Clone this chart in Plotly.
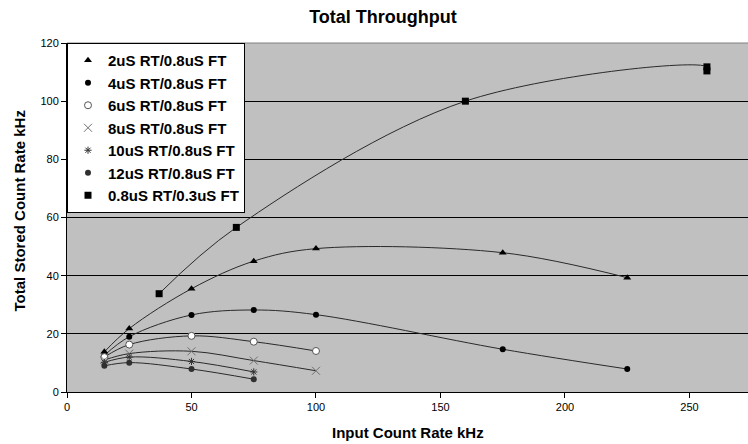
import plotly.graph_objects as go

x_2us = [15, 25, 50, 75, 100, 175, 225]
y_2us = [13.8, 21.8, 35.5, 45.0, 49.3, 47.9, 39.3]
x_4us = [15, 25, 50, 75, 100, 175, 225]
y_4us = [12.6, 19.0, 26.5, 28.2, 26.6, 14.7, 7.9]
x_6us = [15, 25, 50, 75, 100]
y_6us = [12.0, 16.3, 19.3, 17.3, 14.1]
x_8us = [15, 25, 50, 75, 100]
y_8us = [11.0, 13.2, 14.0, 10.8, 7.3]
x_10us = [15, 25, 50, 75]
y_10us = [10.2, 12.0, 10.5, 6.9]
x_12us = [15, 25, 50, 75]
y_12us = [9.0, 10.1, 7.9, 4.4]
x_08us = [37, 68, 160, 257, 257]
y_08us = [33.8, 56.6, 100.0, 111.8, 110.4]

names = ["2uS RT/0.8uS FT", "4uS RT/0.8uS FT", "6uS RT/0.8uS FT", "8uS RT/0.8uS FT",
         "10uS RT/0.8uS FT", "12uS RT/0.8uS FT", "0.8uS RT/0.3uS FT"]
xs = [x_2us, x_4us, x_6us, x_8us, x_10us, x_12us, x_08us]
ys = [y_2us, y_4us, y_6us, y_8us, y_10us, y_12us, y_08us]

markers = [
    dict(symbol="triangle-up", size=7, color="black"),
    dict(symbol="circle", size=6, color="black"),
    dict(symbol="circle", size=7, color="white", line=dict(color="#555555", width=1)),
    dict(symbol="x-thin-open", size=8, color="#707070", line=dict(color="#707070", width=1)),
    dict(symbol="asterisk-open", size=6, color="#333333", line=dict(color="#333333", width=1)),
    dict(symbol="circle", size=6, color="#303030"),
    dict(symbol="square", size=7, color="black"),
]

fig = go.Figure()
for x, y in zip(xs, ys):
    fig.add_trace(go.Scatter(x=x, y=y, mode="lines", showlegend=False, hoverinfo="skip",
                             line=dict(color="#2a2a2a", width=1, shape="spline", smoothing=1)))
for i, (x, y, n, m) in enumerate(zip(xs, ys, names, markers)):
    fig.add_trace(go.Scatter(x=x, y=y, mode="markers", name="<b>" + n + "</b>", marker=m,
                             legendgroup="g%d" % i))

font_family = "Liberation Sans, Arial, sans-serif"

fig.update_layout(
    width=748, height=444,
    margin=dict(l=67, r=0, t=43, b=52, autoexpand=False),
    paper_bgcolor="white",
    plot_bgcolor="#C0C0C0",
    font=dict(family=font_family, size=11, color="black"),
    title=dict(text="<b>Total Throughput</b>", x=0.512, xref="container", y=0.962,
               yref="container", xanchor="center", yanchor="middle",
               font=dict(size=18, family=font_family)),
    showlegend=True,
    legend=dict(x=0.0, y=1.0, xanchor="left", yanchor="top", bgcolor="white",
                bordercolor="black", borderwidth=1,
                font=dict(size=15, family=font_family, color="black"),
                tracegroupgap=0, itemwidth=30),
    xaxis=dict(range=[0, 273.5], tickvals=[0, 50, 100, 150, 200, 250],
               showgrid=False, zeroline=False, showline=True, linecolor="black", linewidth=1,
               ticks="outside", ticklen=5, tickcolor="black", automargin=False,
               tickfont=dict(size=11, family=font_family)),
    yaxis=dict(range=[0, 120], tickvals=[0, 20, 40, 60, 80, 100, 120],
               showgrid=True, gridcolor="black", gridwidth=1, zeroline=False,
               showline=True, linecolor="black", linewidth=1, automargin=False,
               ticks="outside", ticklen=5, tickcolor="black",
               tickfont=dict(size=11, family=font_family)),
    shapes=[dict(type="line", xref="paper", yref="paper", x0=0, x1=1, y0=1, y1=1,
                 line=dict(color="#808080", width=1), layer="above")],
    annotations=[
        dict(text="<b>Input Count Rate kHz</b>", xref="paper", yref="paper", x=0.5, y=0,
             xanchor="center", yanchor="middle", yshift=-40, showarrow=False,
             font=dict(size=15, family=font_family)),
        dict(text="<b>Total Stored Count Rate kHz</b>", xref="paper", yref="paper", x=0, y=0.5,
             xanchor="center", yanchor="middle", xshift=-48, yshift=6, textangle=-90,
             showarrow=False, font=dict(size=15, family=font_family)),
    ],
)

fig.write_html("out.html", config={"displayModeBar": False},
               post_script="document.body.style.margin='0';document.body.style.overflow='hidden';")
